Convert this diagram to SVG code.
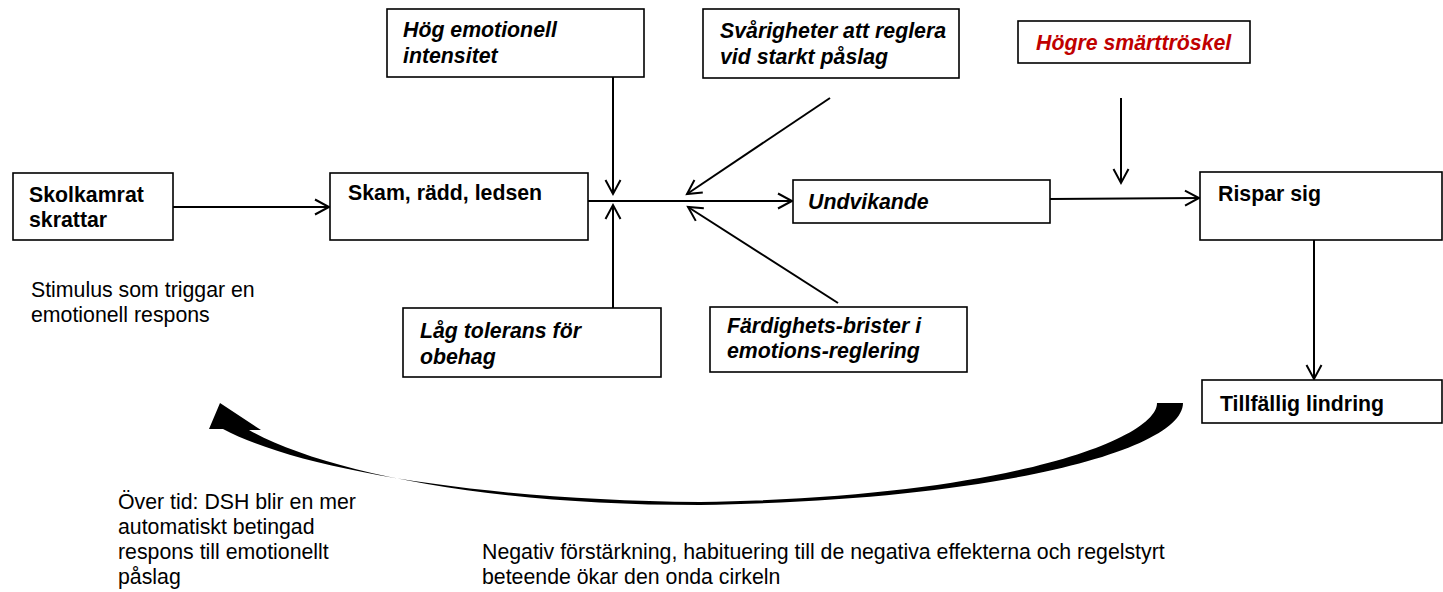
<svg xmlns="http://www.w3.org/2000/svg" width="1443" height="592" viewBox="0 0 1443 592">
  <style>
    .box { fill: #ffffff; stroke: #000000; stroke-width: 1.6; }
    .t { font-family: "Liberation Sans", Arial, sans-serif; font-size: 21.3px; fill: #000000; }
    .b { font-weight: bold; }
    .bi { font-weight: bold; font-style: italic; }
    .red { fill: #C00000; }
    .conn { stroke: #000000; stroke-width: 2; fill: none; marker-end: url(#open); }
  </style>
  <defs>
    <marker id="open" markerUnits="userSpaceOnUse" markerWidth="20" markerHeight="20" viewBox="-16 -10 18 20" refX="0" refY="0" orient="auto">
      <path d="M-14,-7.5 L0,0 L-14,7.5" fill="none" stroke="#000000" stroke-width="2"/>
    </marker>
  </defs>

  <rect width="1443" height="592" fill="#ffffff"/>

  <!-- connectors -->
  <g id="connectors">
    <line class="conn" x1="173" y1="207" x2="329" y2="207"/>
    <line class="conn" x1="613" y1="77" x2="613" y2="194"/>
    <line class="conn" x1="613" y1="308" x2="613" y2="205"/>
    <line class="conn" x1="588" y1="201" x2="792" y2="201"/>
    <line class="conn" x1="830" y1="98" x2="687" y2="194"/>
    <line class="conn" x1="838" y1="303" x2="688" y2="207"/>
    <line class="conn" x1="1121" y1="98" x2="1121" y2="183"/>
    <line class="conn" x1="1050" y1="199" x2="1199" y2="198"/>
    <line class="conn" x1="1314" y1="240" x2="1314" y2="379"/>
    <!-- feedback loop arrow -->
    <path id="loop" fill="#000000" d="M1183 403 C1183 450 1000 500 700 505 C480 505 320 470 249 430 L261 430 L220 403 L209 429 L223 429 C300 470 480 500 700 502 C1000 498 1157 440 1157 403 Z"/>
  </g>

  <g id="skolkamrat">
    <rect class="box" x="13" y="173" width="160" height="67"/>
    <text class="t b" x="29" y="202">Skolkamrat</text>
    <text class="t b" x="29" y="227">skrattar</text>
  </g>

  <g id="skam">
    <rect class="box" x="330" y="173" width="258" height="67"/>
    <text class="t b" x="348" y="200">Skam, rädd, ledsen</text>
  </g>

  <g id="hog-intensitet">
    <rect class="box" x="387" y="9" width="257" height="68"/>
    <text class="t bi" x="403" y="37">Hög emotionell</text>
    <text class="t bi" x="403" y="63">intensitet</text>
  </g>

  <g id="svarigheter">
    <rect class="box" x="703" y="9" width="256" height="69"/>
    <text class="t bi" x="720" y="38">Svårigheter att reglera</text>
    <text class="t bi" x="720" y="64">vid starkt påslag</text>
  </g>

  <g id="smarttroskel">
    <rect class="box" x="1018" y="21" width="232" height="42"/>
    <text class="t bi red" x="1036" y="50">Högre smärttröskel</text>
  </g>

  <g id="undvikande">
    <rect class="box" x="793" y="180" width="257" height="43"/>
    <text class="t bi" x="808" y="209">Undvikande</text>
  </g>

  <g id="rispar">
    <rect class="box" x="1200" y="172" width="242" height="68"/>
    <text class="t b" x="1218" y="201">Rispar sig</text>
  </g>

  <g id="lindring">
    <rect class="box" x="1202" y="380" width="240" height="43"/>
    <text class="t b" x="1220" y="411">Tillfällig lindring</text>
  </g>

  <g id="lag-tolerans">
    <rect class="box" x="403" y="308" width="258" height="69"/>
    <text class="t bi" x="420" y="338">Låg tolerans för</text>
    <text class="t bi" x="420" y="364">obehag</text>
  </g>

  <g id="fardighetsbrister">
    <rect class="box" x="710" y="307" width="257" height="65"/>
    <text class="t bi" x="727" y="333">Färdighets-brister i</text>
    <text class="t bi" x="727" y="358">emotions-reglering</text>
  </g>

  <g id="stimulus-note">
    <text class="t" x="31" y="297">Stimulus som triggar en</text>
    <text class="t" x="31" y="322">emotionell respons</text>
  </g>

  <g id="over-tid-note">
    <text class="t" x="118" y="509">Över tid: DSH blir en mer</text>
    <text class="t" x="118" y="534">automatiskt betingad</text>
    <text class="t" x="118" y="559">respons till emotionellt</text>
    <text class="t" x="118" y="584">påslag</text>
  </g>

  <g id="negativ-note">
    <text class="t" x="482" y="559">Negativ förstärkning, habituering till de negativa effekterna och regelstyrt</text>
    <text class="t" x="482" y="584">beteende ökar den onda cirkeln</text>
  </g>
</svg>
